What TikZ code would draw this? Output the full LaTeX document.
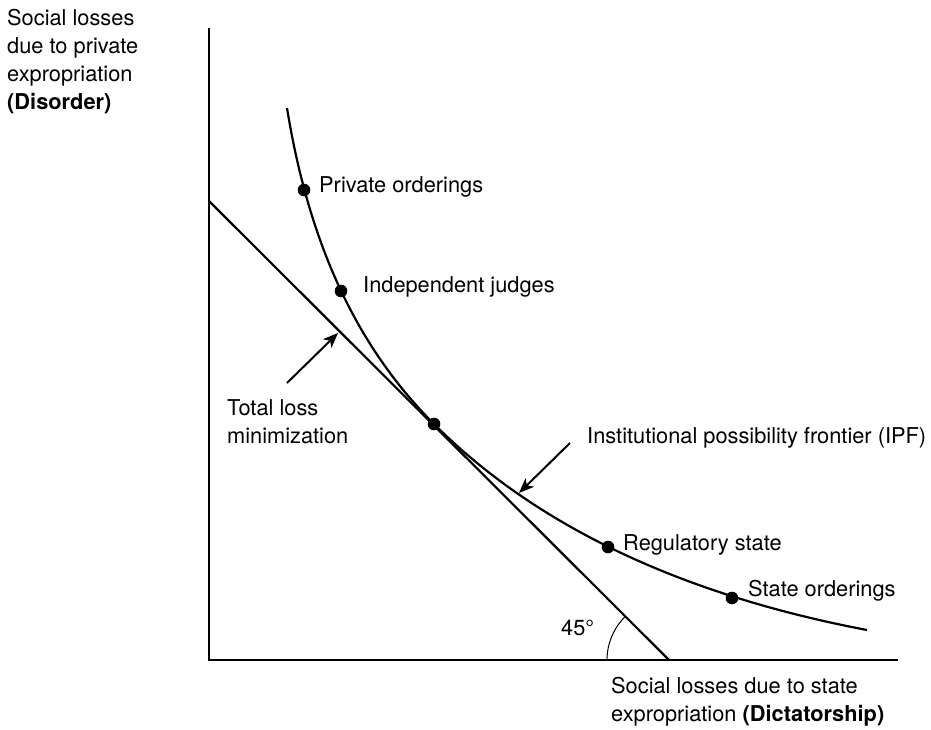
\documentclass[tikz,border=0pt]{standalone}
\usepackage{fontspec}
\setmainfont{TeX Gyre Heros}
\usetikzlibrary{arrows.meta}
\begin{document}
\begin{tikzpicture}[x=1pt,y=-1pt,
  lbl/.style={anchor=base west, inner sep=0pt, font=\fontsize{21.8}{28.3}\selectfont},
  dot/.style={circle, fill=black, inner sep=0pt, minimum size=12.6pt},
  axisline/.style={line width=2.6pt},
  curveline/.style={line width=2.2pt},
  pointer/.style={line width=2pt, -{Stealth[length=15pt,width=12pt,inset=4pt]}},
  anglearc/.style={line width=1pt}
]
\useasboundingbox (0,0) rectangle (931,729);
% axes
\coordinate (ytop) at (209,28);
\coordinate (origin) at (209,660);
\coordinate (xend) at (898,660);
\draw[axisline] (ytop) -- (origin) -- (xend);
% 45 degree line
\coordinate (tA) at (209,201);
\coordinate (tB) at (669,660);
\draw[curveline] (tA) -- (tB);
% frontier
\coordinate (cstart) at (287,108);
\coordinate (tpt) at (434,424);
\coordinate (cend) at (867,630);
\draw[curveline] (cstart) .. controls (310,250) and (360,350) .. (tpt)
  .. controls (549,539) and (707,599.6) .. (cend);
% dots
\node[dot] (po) at (304,190) {};
\node[dot] (ij) at (341,291) {};
\node[dot] (tl) at (tpt) {};
\node[dot] (rs) at (608,547) {};
\node[dot] (so) at (732,598) {};
% labels
\node[lbl] (polbl) at (319,192) {Private orderings};
\node[lbl] (ijlbl) at (363,292) {Independent judges};
\node[lbl] (rslbl) at (623,550) {Regulatory state};
\node[lbl] (solbl) at (748,596) {State orderings};
\node[lbl] (anglbl) at (561,635) {45°};
\node[lbl] (tllbl) at (227,415) {\begin{tabular}[t]{@{}l@{}}Total loss\\minimization\end{tabular}};
\node[lbl] (ipflbl) at (587,443) {Institutional possibility frontier (IPF)};
\node[lbl] (ylbl) at (7,25) {\begin{tabular}[t]{@{}l@{}}Social losses\\due to private\\expropriation\\\textbf{(Disorder)}\end{tabular}};
\node[lbl] (xlbl) at (611,693) {\begin{tabular}[t]{@{}l@{}}Social losses due to state\\expropriation \textbf{(Dictatorship)}\end{tabular}};
% pointers
\coordinate (a1s) at (287,383);
\coordinate (a1e) at (338,333);
\draw[pointer] (a1s) -- (a1e);
\coordinate (a2s) at (570,443);
\coordinate (a2e) at (519,493);
\draw[pointer] (a2s) -- (a2e);
% angle
\draw[anglearc] (607,660) arc[start angle=180, end angle=225, radius=61];
\end{tikzpicture}
\end{document}
